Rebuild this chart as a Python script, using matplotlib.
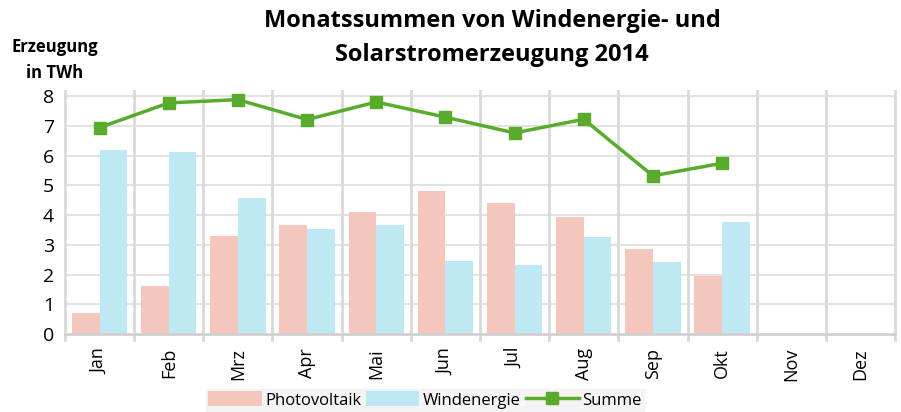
import matplotlib
matplotlib.use("Agg")
import matplotlib.pyplot as plt
import numpy as np

months = ["Jan", "Feb", "Mrz", "Apr", "Mai", "Jun", "Jul", "Aug", "Sep", "Okt", "Nov", "Dez"]
photovoltaik = [0.72, 1.62, 3.30, 3.65, 4.09, 4.82, 4.40, 3.92, 2.87, 1.96]
windenergie = [6.18, 6.12, 4.57, 3.54, 3.68, 2.46, 2.32, 3.27, 2.43, 3.77]
summe = [6.94, 7.77, 7.88, 7.21, 7.80, 7.29, 6.76, 7.22, 5.32, 5.74]

plt.rcParams['font.family'] = ['Open Sans', 'DejaVu Sans']

fig = plt.figure(figsize=(9.01, 4.12), dpi=100)
ax = fig.add_axes([65/901, 1-334/412, 830/901, (334-91)/412])

x = np.arange(len(months))
n = len(photovoltaik)
w = 0.4
b1 = ax.bar(x[:n] - w/2, photovoltaik, width=w, color='#F5C6BB', label='Photovoltaik', zorder=2)
b2 = ax.bar(x[:n] + w/2, windenergie, width=w, color='#BFE8F5', label='Windenergie', zorder=2)
l1, = ax.plot(x[:n], summe, color='#58AB2B', lw=2.5, marker='s', ms=8, label='Summe', zorder=3)

ax.set_xlim(-0.5, len(months) - 0.5)
ax.set_ylim(0, 8.17)
ax.set_yticks(range(0, 9))
ax.tick_params(axis='y', length=0, labelsize=14, pad=8)
ax.set_xticks(x)
ax.set_xticklabels(months, rotation=90, fontsize=13)
ax.tick_params(axis='x', length=0, pad=10)
for b in np.arange(-0.5, len(months), 1.0):
    ax.axvline(b, color='#D9D9D9', lw=2, zorder=1, ymin=-0.025, clip_on=False)
for yv in range(1, 9):
    ax.axhline(yv, color='#DDDDDD', lw=1.2, zorder=1)
for s in ['top', 'right', 'left']:
    ax.spines[s].set_visible(False)
ax.spines['bottom'].set_color('#D0D0D0')
ax.spines['bottom'].set_linewidth(2)

fig.text(492/901, 1-38/412, "Monatssummen von Windenergie- und\nSolarstromerzeugung 2014",
         ha='center', va='center', fontsize=17, fontweight='bold', linespacing=1.55)
fig.text(55/901, 1-60/412, "Erzeugung\nin TWh", ha='center', va='center',
         fontsize=12, fontweight='bold', linespacing=1.6)

leg = fig.legend(handles=[b1, b2, l1], loc='center', bbox_to_anchor=(425/901, 1-400/412), ncol=3,
                 frameon=True, fontsize=12, handlelength=3.2, handleheight=1.0, columnspacing=0.3,
                 handletextpad=0.2, borderpad=0.15, fancybox=False)
leg.get_frame().set_facecolor('#F2F2F2')
leg.get_frame().set_edgecolor('#F2F2F2')

fig.savefig('out.png', dpi=100)
